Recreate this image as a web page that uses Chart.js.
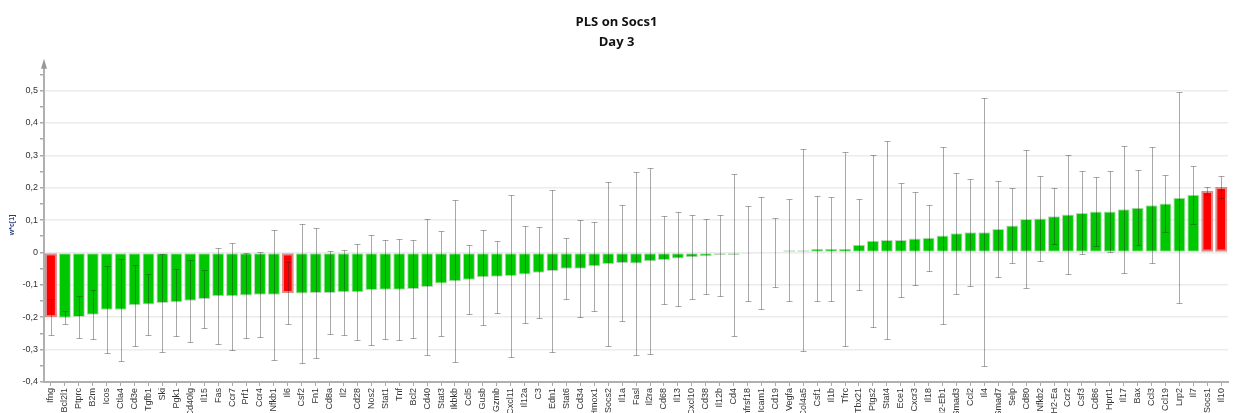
<!DOCTYPE html>
<html>
<head>
<meta charset="utf-8">
<script src="https://cdn.jsdelivr.net/npm/chart.js@4/dist/chart.umd.min.js"></script>
<style>
  body { margin: 0; background: #fff; overflow: hidden; }
  canvas { display: block; }
</style>
</head>
<body>
<canvas id="plsChart" width="1234" height="413"></canvas>
<script>
// genes in the order they are plotted (sorted by loading)
const genes = ["Ifng","Bcl2l1","Ptprc","B2m","Icos","Ctla4","Cd3e","Tgfb1","Ski","Pgk1",
  "Cd40lg","Il15","Fas","Ccr7","Prf1","Ccr4","Nfkb1","Il6","Csf2","Fn1",
  "Cd8a","Il2","Cd28","Nos2","Stat1","Tnf","Bcl2","Cd40","Stat3","Ikbkb",
  "Ccl5","Gusb","Gzmb","Cxcl11","Il12a","C3","Edn1","Stat6","Cd34","Hmox1",
  "Socs2","Il1a","Fasl","Il2ra","Cd68","Il13","Cxcl10","Cd38","Il12b","Cd4",
  "Tnfrsf18","Icam1","Cd19","Vegfa","Col4a5","Csf1","Il1b","Tfrc","Tbx21","Ptgs2",
  "Stat4","Ece1","Cxcr3","Il18","H2-Eb1","Smad3","Ccl2","Il4","Smad7","Selp",
  "Cd80","Nfkb2","H2-Ea","Ccr2","Csf3","Cd86","Hprt1","Il17","Bax","Ccl3",
  "Ccl19","Lrp2","Il7","Socs1","Il10"];

// w*c[1] loadings
const loadings = [-0.200,-0.202,-0.199,-0.192,-0.177,-0.177,-0.163,-0.161,-0.156,-0.154,
  -0.149,-0.144,-0.135,-0.135,-0.133,-0.131,-0.131,-0.125,-0.127,-0.125,
  -0.125,-0.123,-0.123,-0.116,-0.115,-0.115,-0.113,-0.107,-0.096,-0.089,
  -0.084,-0.077,-0.075,-0.073,-0.068,-0.063,-0.057,-0.050,-0.050,-0.043,
  -0.036,-0.033,-0.034,-0.027,-0.023,-0.019,-0.015,-0.012,-0.008,-0.008,
  -0.004,-0.001,0.000,0.007,0.007,0.011,0.011,0.011,0.024,0.036,
  0.038,0.038,0.043,0.045,0.052,0.059,0.062,0.062,0.072,0.083,
  0.103,0.105,0.112,0.117,0.122,0.126,0.126,0.133,0.138,0.146,
  0.151,0.169,0.178,0.190,0.202];

// half width of the confidence interval
const errors = [0.055,0.020,0.066,0.075,0.135,0.157,0.125,0.093,0.152,0.103,
  0.127,0.089,0.149,0.165,0.130,0.131,0.200,0.097,0.215,0.200,
  0.128,0.132,0.148,0.170,0.153,0.155,0.150,0.210,0.161,0.250,
  0.106,0.146,0.111,0.250,0.150,0.140,0.250,0.094,0.150,0.138,
  0.252,0.178,0.283,0.288,0.136,0.145,0.130,0.115,0.125,0.250,
  0.146,0.173,0.107,0.157,0.312,0.162,0.161,0.300,0.140,0.265,
  0.306,0.175,0.145,0.101,0.272,0.186,0.166,0.414,0.149,0.115,
  0.213,0.131,0.086,0.184,0.128,0.106,0.126,0.195,0.115,0.180,
  0.087,0.325,0.089,0.013,0.035];

// genes shown in red
const highlighted = ["Ifng","Il6","Socs1","Il10"];

const yTicks = [-0.4,-0.35,-0.3,-0.25,-0.2,-0.15,-0.1,-0.05,0,0.05,0.1,0.15,0.2,0.25,0.3,0.35,0.4,0.45,0.5,0.55];

function isMajor(v) {
    return Math.abs(Math.round(v * 10) - v * 10) < 1e-6;
}

//draws the error bars from the loadings and errors arrays
const errorBarPlugin = {
    id: "errorBars",
    afterDatasetsDraw(chart) {
        const ctx = chart.ctx;
        const yScale = chart.scales.y;
        const meta = chart.getDatasetMeta(0);
        ctx.save();
        ctx.strokeStyle = "rgba(40,40,40,0.4)";
        ctx.lineWidth = 1;
        meta.data.forEach((bar, i) => {
            const x = Math.round(bar.x) + 0.5;
            const yTop = Math.round(yScale.getPixelForValue(loadings[i] + errors[i])) + 0.5;
            const yBot = Math.round(yScale.getPixelForValue(loadings[i] - errors[i])) + 0.5;
            ctx.beginPath();
            ctx.moveTo(x, yTop);
            ctx.lineTo(x, yBot);
            ctx.moveTo(x - 3, yTop);
            ctx.lineTo(x + 3, yTop);
            ctx.moveTo(x - 3, yBot);
            ctx.lineTo(x + 3, yBot);
            ctx.stroke();
        });
        ctx.restore();
    }
};

//arrow head on top of the y axis
const axisArrowPlugin = {
    id: "axisArrow",
    afterDraw(chart) {
        const ctx = chart.ctx;
        const x = chart.chartArea.left;
        const top = chart.chartArea.top;
        ctx.save();
        ctx.fillStyle = "#999";
        ctx.beginPath();
        ctx.moveTo(x - 3, top + 1);
        ctx.lineTo(x + 3, top + 1);
        ctx.lineTo(x, top - 9);
        ctx.closePath();
        ctx.fill();
        ctx.restore();
    }
};

new Chart(document.getElementById("plsChart"), {
    type: "bar",
    data: {
        labels: genes,
        datasets: [{
            label: "w*c[1]",
            data: loadings,
            backgroundColor: genes.map(g => highlighted.includes(g) ? "#ff0000" : "#00c800"),
            borderColor: genes.map(g => highlighted.includes(g) ? "#e08a8a" : "#b8d8b8"),
            borderWidth: genes.map(g => highlighted.includes(g) ? 2 : 1),
            borderSkipped: false,
            categoryPercentage: 1,
            barPercentage: 0.86
        }]
    },
    options: {
        responsive: false,
        animation: false,
        devicePixelRatio: 1,
        layout: { padding: { left: 0, right: 1, top: 0, bottom: 0 } },
        plugins: {
            legend: { display: false },
            tooltip: { enabled: false },
            title: {
                display: true,
                text: ["PLS on Socs1", "Day 3"],
                color: "#111",
                font: { family: "'Open Sans', 'Liberation Sans', sans-serif", size: 13, weight: "bold", lineHeight: 1.55 },
                padding: { top: 12, bottom: 15.5 }
            }
        },
        scales: {
            x: {
                afterFit: (scale) => { scale.height = 31; },
                grid: { offset: false, drawOnChartArea: false, drawTicks: true, tickLength: 4, color: "#aaa" },
                border: { color: "#b0b0b0", width: 2 },
                ticks: {
                    autoSkip: false,
                    minRotation: 90,
                    maxRotation: 90,
                    padding: 2,
                    color: "#333",
                    font: { family: "'Liberation Sans', Arial, sans-serif", size: 9 }
                }
            },
            y: {
                min: -0.4,
                max: 0.57,
                afterFit: (scale) => { scale.width = 44; },
                afterBuildTicks: (scale) => { scale.ticks = yTicks.map(v => ({ value: v })); },
                grid: {
                    color: (c) => isMajor(c.tick.value) ? "#ececec" : "rgba(0,0,0,0)",
                    tickColor: "#aaa",
                    tickLength: 4,
                    lineWidth: 1.5
                },
                border: { color: "#b0b0b0", width: 2 },
                ticks: {
                    padding: 2,
                    color: "#333",
                    font: { family: "'Liberation Sans', Arial, sans-serif", size: 9 },
                    callback: (v) => {
                        if (!isMajor(v)) return "";
                        if (Math.abs(v) < 1e-9) return "0";
                        return v.toFixed(1).replace(".", ",");
                    }
                },
                title: {
                    display: true,
                    text: "w*c[1]",
                    color: "#2a3f7a",
                    font: { family: "'Liberation Sans', Arial, sans-serif", size: 7, weight: "bold" },
                    padding: { top: 8, bottom: 0 }
                }
            }
        }
    },
    plugins: [errorBarPlugin, axisArrowPlugin]
});
</script>
</body>
</html>
